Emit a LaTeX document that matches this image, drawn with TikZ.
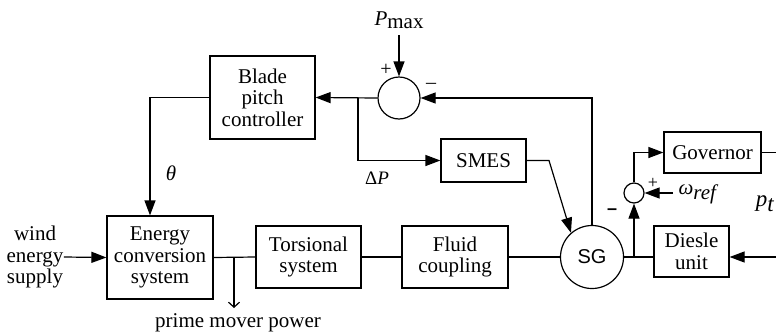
\documentclass[tikz,border=0pt]{standalone}
\usepackage{fontspec}
\setmainfont{Liberation Serif}
\setsansfont{Liberation Sans}
\usetikzlibrary{arrows.meta,calc}
\begin{document}
\begin{tikzpicture}[x=1pt,y=-1pt, line width=1.2pt,
 box/.style={draw, rectangle, inner sep=0pt, align=center, font=\fontsize{21}{21.5}\selectfont},
 sumc/.style={draw, circle, inner sep=0pt},
 arr/.style={-{Triangle[length=15pt,width=11pt]}},
 openarr/.style={-{Straight Barb[length=5pt,width=11pt]}},
 lbl/.style={font=\fontsize{21}{21.5}\selectfont, inner sep=0pt, align=center}]
\useasboundingbox (0,0) rectangle (776,335);

% blocks
\node[box, minimum width=105pt, minimum height=83pt] (blade) at (262.5,97.5) {Blade\\pitch\\controller};
\node[sumc, minimum size=42pt] (s1) at (399,98) {};
\node[box, minimum width=85pt, minimum height=43pt] (smes) at (483.5,160.5) {SMES};
\node[box, minimum width=106pt, minimum height=83pt] (ecs) at (160,257.5) {Energy\\conversion\\system};
\node[box, minimum width=105pt, minimum height=62pt] (tors) at (308.5,257) {Torsional\\system};
\node[box, minimum width=106pt, minimum height=62pt] (fluid) at (455,257) {Fluid\\coupling};
\node[sumc, minimum size=63pt, font=\sffamily\fontsize{20}{20}\selectfont] (sg) at (592,257) {SG};
\node[box, minimum width=75pt, minimum height=51pt] (dies) at (691.5,251.5) {Diesle\\unit};
\node[sumc, minimum size=20pt] (s2) at (634,193) {};
\node[box, minimum width=97pt, minimum height=41pt] (gov) at (712.5,152.5) {Governor};

% labels
\node[lbl] (pmax) at (399,20) {\textit{P}\raisebox{-0.35ex}{max}};
\node[lbl, font=\fontsize{20}{20}\selectfont] (p1) at (386,70) {+};
\node[lbl, font=\fontsize{20}{20}\selectfont] (m1) at (431,86) {–};
\node[lbl] (theta) at (171,173) {\textit{θ}};
\node[lbl, font=\fontsize{19}{19}\selectfont] (dp) at (377,178) {Δ\textit{P}};
\node[lbl] (wind) at (35,257) {wind\\energy\\supply};
\node[lbl] (pmp) at (238,323) {prime mover power};
\node[lbl, font=\sffamily\bfseries\fontsize{18}{18}\selectfont] (m2) at (612,212) {–};
\node[lbl, font=\fontsize{18}{18}\selectfont] (p2) at (653,183) {+};
\node[lbl, anchor=west] (wref) at (678,194) {\textit{ω}\raisebox{-0.45ex}{\textit{ref}}};
\node[lbl, font=\fontsize{23}{23}\selectfont] (pt) at (765,204) {\textit{p}\raisebox{-0.5ex}{\textit{t}}};

% coordinates
\coordinate (pmaxe) at (399,35);
\coordinate (b1) at (358,98);
\coordinate (t1) at (150,97.5);
\coordinate (f1) at (592,98);
\coordinate (sm1) at (549,160.5);
\coordinate (pm) at (234,257);
\coordinate (pm2) at (234,308);
\coordinate (b2) at (634,257);
\coordinate (g1) at (634,152.5);
\coordinate (ge) at (776,152.5);
\coordinate (de) at (776,257);
\coordinate (wr) at (673,193);

% connectors
\draw[arr] (pmaxe) -- (s1.north);
\draw[arr] (s1.west) -- (blade.east);
\draw[arr] (b1) |- (smes.west);
\draw[arr] (blade.west) -- (t1) -- (t1 |- ecs.north);
\draw[arr] (sg.north) -- (f1) -- (s1.east);
\draw[arr] (smes.east) -- (sm1) -- (sg.131);
\draw[arr] (wind.east) -- (ecs.west);
\draw (ecs.east) -- (tors.west);
\draw (tors.east) -- (fluid.west);
\draw (fluid.east) -- (sg.west);
\draw[openarr] (pm) -- (pm2);
\draw (sg.east) -- (sg.east -| dies.west);
\draw[arr] (b2) -- (s2.south);
\draw[arr] (s2.north) -- (g1) -- (gov.west);
\draw (gov.east) -- (ge);
\draw[arr] (de) -- (de -| dies.east);
\draw[arr] (wr) -- (s2.east);
\end{tikzpicture}
\end{document}
